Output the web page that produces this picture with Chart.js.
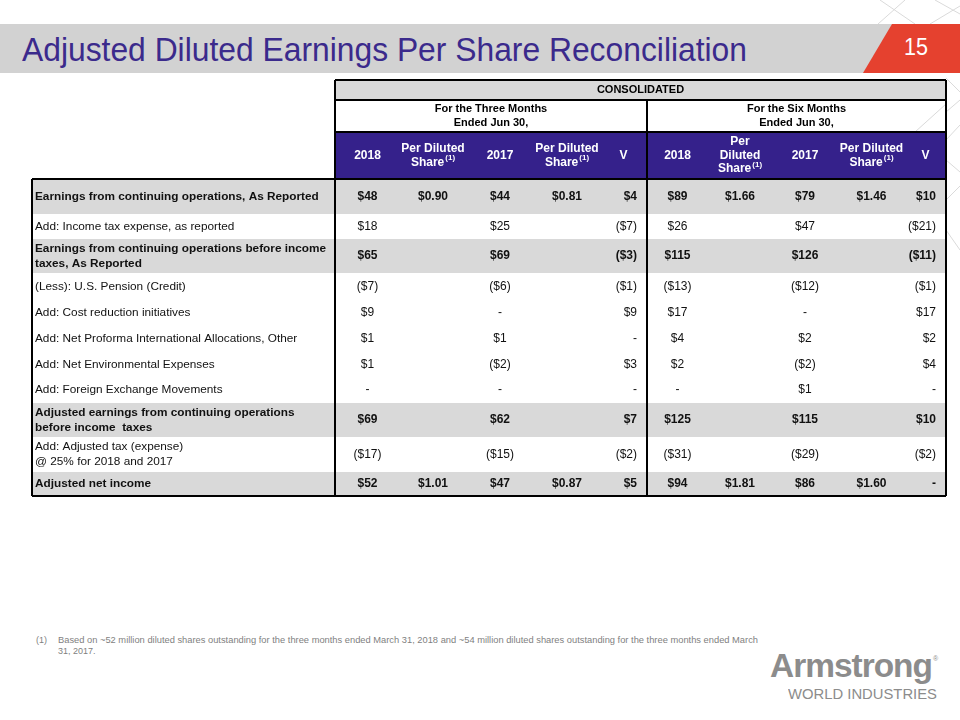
<!DOCTYPE html>
<html>
<head>
<meta charset="utf-8">
<script src="https://cdn.jsdelivr.net/npm/chart.js@4.4.0/dist/chart.umd.min.js"></script>
<style>
    body { margin: 0; width: 960px; height: 720px; background: #fff; position: relative; overflow: hidden; font-family: "Liberation Sans", Arial, sans-serif; }
    #deco { position: absolute; left: 0; top: 0; }
    #band { position: absolute; left: 0; top: 24px; width: 900px; height: 49px; background: #d2d2d2; }
    #red { position: absolute; left: 0; top: 0; }
    #title { position: absolute; left: 22px; top: 33px; font-family: "Liberation Sans Narrow", "Arial Narrow", "Liberation Sans", sans-serif; font-size: 33px; line-height: 33px; color: #3b2a8c; white-space: nowrap; display: inline-block; transform-origin: 0 0; }
    #page { position: absolute; left: 904px; top: 35px; font-family: "Liberation Sans Narrow", "Arial Narrow", "Liberation Sans", sans-serif; font-size: 24px; line-height: 24px; color: #fff; display: inline-block; transform-origin: 0 0; }
    #wrap { position: absolute; left: 30px; top: 78px; width: 918px; height: 420px; }
    .note { position: absolute; font-size: 9px; line-height: 11px; color: #7f7f7f; white-space: nowrap; display: inline-block; transform-origin: 0 0; }
    #logo { position: absolute; left: 770px; top: 648px; color: #8c8c8c; font-size: 34px; line-height: 34px; font-weight: bold; white-space: nowrap; display: inline-block; transform-origin: 0 0; letter-spacing: -1px; }
    #reg { position: absolute; left: 933px; top: 655px; color: #8c8c8c; font-size: 7px; line-height: 7px; }
    #world { position: absolute; left: 788px; top: 685px; color: #8c8c8c; font-size: 15px; line-height: 17px; white-space: nowrap; display: inline-block; transform-origin: 0 0; }
</style>
</head>
<body>

<svg id="deco" width="960" height="720">
    <g stroke="#dadada" stroke-width="1" fill="none">
        <path d="M905 0 L878 24 M880 0 L915 24 M960 6 L930 24 M935 0 L960 14"/>
        <path d="M946 78 L960 92 M946 112 L960 100 M960 125 L946 140 M946 160 L960 172 M946 200 L960 186 M946 230 L960 250"/>
        <path d="M905 100 L946 80 M915 132 L946 104"/>
    </g>
</svg>
<div id="band"></div>
<svg id="red" width="960" height="80"><polygon points="892,24 960,24 960,73 863,73" fill="#e5412f"/></svg>
<div id="title">Adjusted Diluted Earnings Per Share Reconciliation</div>
<div id="page">15</div>

<div id="wrap"><canvas id="tabela"></canvas></div>

<div class="note" style="left:36px;top:635px">(1)</div>
<div class="note" id="nota1" style="left:58px;top:635px">Based on ~52 million diluted shares outstanding for the three months ended March 31, 2018 and ~54 million diluted shares outstanding for the three months ended March</div>
<div class="note" style="left:58px;top:646px">31, 2017.</div>
<div id="logo">Armstrong</div>
<div id="reg">®</div>
<div id="world">WORLD INDUSTRIES</div>

<script>
/* DADOS */
const rowLabels = [
    "Earnings from continuing operations, As Reported",
    "Add: Income tax expense, as reported",
    "Earnings from continuing operations before income\ntaxes, As Reported",
    "(Less): U.S. Pension (Credit)",
    "Add: Cost reduction initiatives",
    "Add: Net Proforma International Allocations, Other",
    "Add: Net Environmental Expenses",
    "Add: Foreign Exchange Movements",
    "Adjusted earnings from continuing operations\nbefore income  taxes",
    "Add: Adjusted tax (expense)\n@ 25% for 2018 and 2017",
    "Adjusted net income"
];
const boldRows = [0, 2, 8, 10];

const tableTitle = "CONSOLIDATED";
const periods = ["For the Three Months\nEnded Jun 30,", "For the Six Months\nEnded Jun 30,"];
const columnHeaders = ["2018", "Per Diluted\nShare^(1)", "2017", "Per Diluted\nShare^(1)", "V",
                       "2018", "Per\nDiluted\nShare^(1)", "2017", "Per Diluted\nShare^(1)", "V"];

const threeM2018 = [48, 18, 65, -7, 9, 1, 1, null, 69, -17, 52];
const threeM2018Share = [0.90, null, null, null, null, null, null, null, null, null, 1.01];
const threeM2017 = [44, 25, 69, -6, null, 1, -2, null, 62, -15, 47];
const threeM2017Share = [0.81, null, null, null, null, null, null, null, null, null, 0.87];
const threeMVar = [4, -7, -3, -1, 9, null, 3, null, 7, -2, 5];

const sixM2018 = [89, 26, 115, -13, 17, 4, 2, null, 125, -31, 94];
const sixM2018Share = [1.66, null, null, null, null, null, null, null, null, null, 1.81];
const sixM2017 = [79, 47, 126, -12, null, 2, -2, 1, 115, -29, 86];
const sixM2017Share = [1.46, null, null, null, null, null, null, null, null, null, 1.60];
const sixMVar = [10, -21, -11, -1, 17, 2, 4, null, 10, -2, null];

/* LAYOUT (larguras e alturas em px) */
const colWidths = [303, 65, 66, 68, 66, 47, 61, 64, 66, 67, 41];
const rowHeights = [20, 32, 47, 35, 25, 34, 27, 26, 26, 25, 26, 34, 35, 24];
const headRows = 3;

const colEdges = [0];
colWidths.forEach(w => colEdges.push(colEdges[colEdges.length - 1] + w));
const rowEdges = [0];
rowHeights.forEach(h => rowEdges.push(rowEdges[rowEdges.length - 1] + h));

const fmtMoney = v => v === null ? "-" : (v < 0 ? "($" + (-v) + ")" : "$" + v);
const fmtShare = v => v === null ? "" : "$" + v.toFixed(2);

const columns = [
    { values: rowLabels, fmt: s => s, align: "left" },
    { values: threeM2018, fmt: fmtMoney, align: "center" },
    { values: threeM2018Share, fmt: fmtShare, align: "center" },
    { values: threeM2017, fmt: fmtMoney, align: "center" },
    { values: threeM2017Share, fmt: fmtShare, align: "center" },
    { values: threeMVar, fmt: fmtMoney, align: "right" },
    { values: sixM2018, fmt: fmtMoney, align: "center" },
    { values: sixM2018Share, fmt: fmtShare, align: "center" },
    { values: sixM2017, fmt: fmtMoney, align: "center" },
    { values: sixM2017Share, fmt: fmtShare, align: "center" },
    { values: sixMVar, fmt: fmtMoney, align: "right" }
];

const cellCenterX = c => (colEdges[c] + colEdges[c + 1]) / 2;
const cellCenterY = r => (rowEdges[r] + rowEdges[r + 1]) / 2;

const datasets = columns.map((col, c) => ({
    label: "col" + c,
    col: c,
    align: col.align,
    texts: col.values.map(col.fmt),
    data: col.values.map((v, i) => ({ x: cellCenterX(c), y: cellCenterY(i + headRows) })),
    pointRadius: 0
}));

/* ESTILO */
const cinza = "#d9d9d9";
const roxo = "#35218b";
const fonte = "\"Liberation Sans\", Arial, sans-serif";

function desenhaTexto(ctx, text, x, y, align, bold, size, color, lineH) {
    const lines = text.split("\n");
    const y0 = y - (lines.length - 1) * lineH / 2;
    const f = (bold ? "bold " : "") + size + "px " + fonte;
    const fs = (bold ? "bold " : "") + "8px " + fonte;
    ctx.fillStyle = color;
    ctx.textAlign = "left";
    ctx.textBaseline = "middle";
    lines.forEach((line, i) => {
        let main = line, sup = "";
        const k = line.indexOf("^");
        if (k >= 0) { main = line.slice(0, k); sup = line.slice(k + 1); }
        ctx.font = f;
        const w1 = ctx.measureText(main).width;
        ctx.font = fs;
        const w2 = sup ? ctx.measureText(sup).width + 1 : 0;
        let left = x - (w1 + w2) / 2;
        if (align === "left") left = x;
        if (align === "right") left = x - w1 - w2;
        const yy = y0 + i * lineH;
        ctx.font = f;
        ctx.fillText(main, left, yy);
        if (sup) {
            ctx.font = fs;
            ctx.fillText(sup, left + w1 + 1, yy - 4);
        }
    });
}

const tabelaPlugin = {
    id: "tabela",
    beforeDatasetsDraw(chart) {
        const { ctx, scales: { x, y } } = chart;
        const X = i => x.getPixelForValue(colEdges[i]);
        const Y = i => y.getPixelForValue(rowEdges[i]);
        const nc = colWidths.length, nr = rowHeights.length;
        ctx.save();
        // fundo
        ctx.fillStyle = cinza;
        ctx.fillRect(X(1), Y(0), X(nc) - X(1), Y(1) - Y(0));
        ctx.fillStyle = roxo;
        ctx.fillRect(X(1), Y(2), X(nc) - X(1), Y(3) - Y(2));
        ctx.fillStyle = cinza;
        boldRows.forEach(r => {
            ctx.fillRect(X(0), Y(r + headRows), X(nc) - X(0), Y(r + headRows + 1) - Y(r + headRows));
        });
        // bordas
        ctx.strokeStyle = "#000";
        ctx.lineWidth = 2;
        ctx.beginPath();
        ctx.moveTo(X(1), Y(0)); ctx.lineTo(X(nc), Y(0));
        ctx.moveTo(X(1), Y(1)); ctx.lineTo(X(nc), Y(1));
        ctx.moveTo(X(1), Y(2)); ctx.lineTo(X(nc), Y(2));
        ctx.moveTo(X(0), Y(3)); ctx.lineTo(X(nc), Y(3));
        ctx.moveTo(X(0), Y(nr)); ctx.lineTo(X(nc), Y(nr));
        ctx.moveTo(X(0), Y(3)); ctx.lineTo(X(0), Y(nr));
        ctx.moveTo(X(1), Y(0)); ctx.lineTo(X(1), Y(nr));
        ctx.moveTo(X(6), Y(1)); ctx.lineTo(X(6), Y(nr));
        ctx.moveTo(X(nc), Y(0)); ctx.lineTo(X(nc), Y(nr));
        ctx.stroke();
        // cabecalho
        const yc = r => (Y(r) + Y(r + 1)) / 2;
        desenhaTexto(ctx, tableTitle, (X(1) + X(nc)) / 2, yc(0), "center", true, 11, "#000", 14);
        desenhaTexto(ctx, periods[0], (X(1) + X(6)) / 2, yc(1), "center", true, 11, "#000", 14);
        desenhaTexto(ctx, periods[1], (X(6) + X(nc)) / 2, yc(1), "center", true, 11, "#000", 14);
        columnHeaders.forEach((h, i) => {
            desenhaTexto(ctx, h, (X(i + 1) + X(i + 2)) / 2, yc(2), "center", true, 12, "#fff", 13.5);
        });
        ctx.restore();
    },
    afterDatasetsDraw(chart) {
        const { ctx, scales: { x } } = chart;
        ctx.save();
        chart.data.datasets.forEach((ds, di) => {
            const meta = chart.getDatasetMeta(di);
            meta.data.forEach((pt, i) => {
                let px = pt.x;
                let size = 12;
                if (ds.align === "left") { px = x.getPixelForValue(colEdges[ds.col]) + 3; size = 11.8; }
                if (ds.align === "right") px = x.getPixelForValue(colEdges[ds.col + 1]) - 10;
                const bold = boldRows.includes(i);
                desenhaTexto(ctx, ds.texts[i], px, pt.y, ds.align, bold, size, "#111", 15);
            });
        });
        ctx.restore();
    }
};

new Chart(document.getElementById("tabela"), {
    type: "scatter",
    data: { datasets: datasets },
    options: {
        responsive: true,
        maintainAspectRatio: false,
        animation: false,
        events: [],
        layout: { padding: 2 },
        plugins: { legend: { display: false }, tooltip: { enabled: false } },
        scales: {
            x: { type: "linear", min: 0, max: colEdges[colEdges.length - 1], display: false },
            y: { type: "linear", min: 0, max: rowEdges[rowEdges.length - 1], reverse: true, display: false }
        }
    },
    plugins: [tabelaPlugin]
});

/* ajusta larguras dos textos HTML */
function ajusta(id, w) {
    const el = document.getElementById(id);
    const r = el.getBoundingClientRect().width;
    el.style.transform = "scaleX(" + (w / r) + ")";
}
ajusta("title", 725);
ajusta("page", 24);
ajusta("nota1", 700);
ajusta("logo", 162);
ajusta("world", 149);
</script>
</body>
</html>
